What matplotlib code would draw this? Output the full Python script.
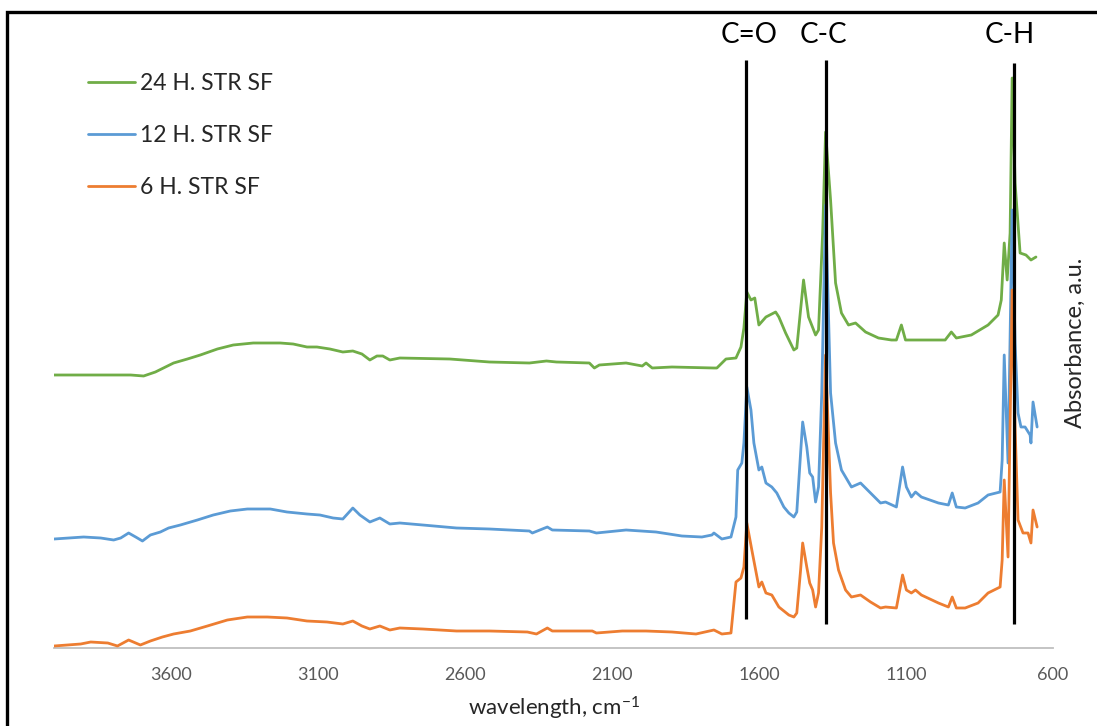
import matplotlib
matplotlib.use("Agg")
import matplotlib.pyplot as plt
from matplotlib.patches import Rectangle
from matplotlib.transforms import blended_transform_factory

plt.rcParams['font.family'] = ['Lato', 'DejaVu Sans']
plt.rcParams['mathtext.fontset'] = 'custom'
plt.rcParams['mathtext.rm'] = 'Lato'
plt.rcParams['mathtext.it'] = 'Lato:italic'

# ---- spectra (wavenumber, cm^-1 / absorbance, a.u., stacked) ----
wn_24h = [4000, 3739, 3695, 3655, 3593, 3546, 3502, 3444, 3390, 3322, 3230, 3186, 3139, 3105,
          3061, 3017, 2983, 2952, 2925, 2901, 2881, 2857, 2823, 2653, 2518, 2382, 2324, 2290,
          2178, 2161, 2144, 2053, 1998, 1985, 1964, 1897, 1754, 1744, 1713, 1679, 1662, 1652,
          1642, 1628, 1615, 1601, 1577, 1544, 1533, 1510, 1482, 1472, 1449, 1432, 1408, 1398,
          1384, 1374, 1357, 1340, 1320, 1296, 1272, 1238, 1194, 1150, 1133, 1116, 1102, 1058,
          967, 946, 929, 878, 821, 787, 776, 766, 756, 746, 739, 729, 712, 692, 675, 658]
abs_24h = [2.73, 2.73, 2.72, 2.76, 2.85, 2.89, 2.93, 2.99, 3.03, 3.05, 3.05, 3.04, 3.01, 3.01,
           2.99, 2.96, 2.97, 2.94, 2.88, 2.92, 2.92, 2.88, 2.90, 2.89, 2.86, 2.85, 2.87, 2.86,
           2.85, 2.80, 2.83, 2.85, 2.82, 2.85, 2.80, 2.81, 2.80, 2.80, 2.89, 2.90, 3.01, 3.20,
           3.56, 3.48, 3.50, 3.23, 3.31, 3.36, 3.31, 3.15, 2.98, 3.00, 3.68, 3.31, 3.13, 3.18,
           4.15, 5.16, 4.48, 3.65, 3.35, 3.23, 3.25, 3.16, 3.10, 3.08, 3.08, 3.23, 3.08, 3.08,
           3.08, 3.16, 3.10, 3.13, 3.23, 3.33, 3.48, 4.05, 3.68, 4.15, 5.70, 4.65, 3.95, 3.93,
           3.88, 3.91]

wn_12h = [4000, 3899, 3841, 3797, 3773, 3746, 3722, 3699, 3672, 3638, 3610, 3570, 3512, 3458,
          3400, 3342, 3264, 3207, 3139, 3095, 3050, 3017, 2983, 2959, 2925, 2891, 2857, 2823,
          2745, 2630, 2518, 2382, 2372, 2321, 2304, 2178, 2154, 2053, 1951, 1863, 1795, 1761,
          1754, 1727, 1696, 1679, 1673, 1659, 1652, 1642, 1628, 1618, 1601, 1591, 1577, 1557,
          1540, 1516, 1499, 1482, 1472, 1459, 1452, 1438, 1428, 1418, 1408, 1398, 1387, 1374,
          1357, 1340, 1320, 1286, 1255, 1221, 1187, 1170, 1133, 1112, 1099, 1082, 1068, 1048,
          990, 956, 943, 929, 899, 855, 821, 780, 773, 766, 753, 739, 729, 719, 709, 695,
          678, 675, 668, 654]
abs_12h = [1.09, 1.11, 1.10, 1.08, 1.10, 1.15, 1.11, 1.07, 1.13, 1.16, 1.20, 1.23, 1.28, 1.33,
           1.37, 1.39, 1.39, 1.36, 1.34, 1.33, 1.30, 1.29, 1.40, 1.33, 1.26, 1.30, 1.24, 1.25,
           1.23, 1.20, 1.19, 1.17, 1.15, 1.21, 1.18, 1.17, 1.15, 1.18, 1.16, 1.12, 1.11, 1.13,
           1.15, 1.09, 1.11, 1.31, 1.78, 1.85, 2.05, 2.61, 2.38, 2.05, 1.78, 1.81, 1.65, 1.61,
           1.55, 1.41, 1.35, 1.31, 1.36, 1.95, 2.26, 2.01, 1.75, 1.71, 1.46, 1.61, 2.55, 4.43,
           2.55, 2.05, 1.78, 1.61, 1.65, 1.55, 1.45, 1.46, 1.41, 1.81, 1.61, 1.51, 1.56, 1.51,
           1.45, 1.43, 1.55, 1.41, 1.40, 1.45, 1.53, 1.56, 1.88, 2.93, 1.85, 4.38, 3.05, 2.35,
           2.21, 2.21, 2.13, 2.05, 2.46, 2.21]

wn_6h = [4000, 3909, 3875, 3817, 3784, 3746, 3706, 3672, 3631, 3593, 3536, 3478, 3410, 3342,
         3274, 3207, 3139, 3071, 3017, 2983, 2952, 2925, 2891, 2857, 2823, 2745, 2630, 2518,
         2389, 2358, 2321, 2304, 2168, 2154, 2066, 1985, 1897, 1815, 1754, 1727, 1696, 1679,
         1662, 1652, 1642, 1625, 1601, 1591, 1577, 1557, 1533, 1499, 1482, 1472, 1459, 1452,
         1438, 1428, 1418, 1408, 1398, 1387, 1374, 1357, 1347, 1330, 1306, 1286, 1255, 1221,
         1187, 1170, 1133, 1112, 1099, 1082, 1068, 1048, 990, 956, 943, 929, 899, 855,
         821, 780, 773, 766, 753, 739, 729, 719, 702, 685, 675, 668, 654]
abs_6h = [0.02, 0.04, 0.06, 0.05, 0.02, 0.08, 0.03, 0.07, 0.11, 0.14, 0.17, 0.22, 0.28, 0.31,
          0.31, 0.30, 0.27, 0.26, 0.24, 0.27, 0.22, 0.19, 0.22, 0.18, 0.20, 0.19, 0.17, 0.17,
          0.16, 0.14, 0.20, 0.17, 0.17, 0.15, 0.17, 0.17, 0.16, 0.14, 0.18, 0.14, 0.15, 0.66,
          0.70, 0.81, 1.25, 0.98, 0.61, 0.66, 0.55, 0.53, 0.41, 0.33, 0.31, 0.35, 0.78, 1.05,
          0.81, 0.65, 0.58, 0.41, 0.55, 1.21, 2.93, 1.55, 1.05, 0.78, 0.58, 0.51, 0.53, 0.46,
          0.40, 0.41, 0.40, 0.73, 0.58, 0.55, 0.58, 0.53, 0.45, 0.41, 0.51, 0.40, 0.40, 0.45,
          0.55, 0.61, 0.88, 1.68, 0.91, 3.58, 2.20, 1.28, 1.15, 1.15, 1.05, 1.38, 1.21]

series_labels = ["24 H. STR SF", "12 H. STR SF", "6 H. STR SF"]
series_colors = ["#70AD47", "#5B9BD5", "#ED7D31"]

# band assignments: position and extent of the marker lines
band_names = ["C=O", "C-C", "C-H"]
band_wn = [1645, 1374, 732]
band_top = [5.88, 5.88, 5.85]
band_bottom = [0.29, 0.24, 0.24]
band_label_wn = [1635, 1381, 746]

tick_values = [3600, 3100, 2600, 2100, 1600, 1100, 600]
tick_labels = ["3600", "3100", "2600", "2100", "1600", "1100", "600"]

W, H = 1097, 726
fig = plt.figure(figsize=(W / 100, H / 100), dpi=100)
ax = fig.add_axes([54 / W, 1 - 648 / H, 999 / W, (648 - 40) / H])

line_kw = dict(lw=2.0, solid_joinstyle="round", solid_capstyle="round")
ax.plot(wn_24h, abs_24h, color=series_colors[0], zorder=2, label=series_labels[0], **line_kw)
ax.plot(wn_12h, abs_12h, color=series_colors[1], zorder=3, label=series_labels[1], **line_kw)
ax.plot(wn_6h, abs_6h, color=series_colors[2], zorder=4, label=series_labels[2], **line_kw)

ax.set_xlim(4000, 600)
ax.set_ylim(0, 6.08)

for s in ["top", "left", "right"]:
    ax.spines[s].set_visible(False)
ax.spines["bottom"].set_color("#BFBFBF")
ax.spines["bottom"].set_linewidth(1.3)
ax.set_yticks([])
ax.set_xticks(tick_values)
ax.set_xticklabels(tick_labels)
ax.tick_params(axis="x", length=0, pad=14, labelsize=13, labelcolor="#595959")

# band marker lines and their labels
lbl_tr = blended_transform_factory(ax.transData, fig.transFigure)
for name, w, top, bot, lw_ in zip(band_names, band_wn, band_top, band_bottom, band_label_wn):
    ax.plot([w, w], [bot, top], color="black", lw=2.3, zorder=6, solid_capstyle="butt")
    ax.text(lw_, 1 - 35 / H, name, transform=lbl_tr, ha="center", va="center",
            fontsize=20, color="black", clip_on=False)

leg = ax.legend(loc="upper left", bbox_to_anchor=(88 / W, 1 - 73 / H),
                bbox_transform=fig.transFigure, frameon=False, fontsize=16.5,
                handlelength=2.05, handletextpad=0.22, labelspacing=1.35,
                borderpad=0, borderaxespad=0)
for t in leg.get_texts():
    t.set_color("#262626")

fig.text(554 / W, 1 - 708 / H, "wavelength, cm$^{-1}$", ha="center", va="center",
         fontsize=16, color="#262626")
fig.text(1075 / W, 1 - 343 / H, "Absorbance, a.u.", ha="center", va="center",
         rotation=90, fontsize=17, color="#262626")

# outer frame
fig.patches.append(Rectangle((7 / W, -0.1), 1.2, 1.1 - 12 / H, transform=fig.transFigure,
                             fill=False, ec="black", lw=2.4, zorder=10))

fig.savefig("out.png", dpi=100)
